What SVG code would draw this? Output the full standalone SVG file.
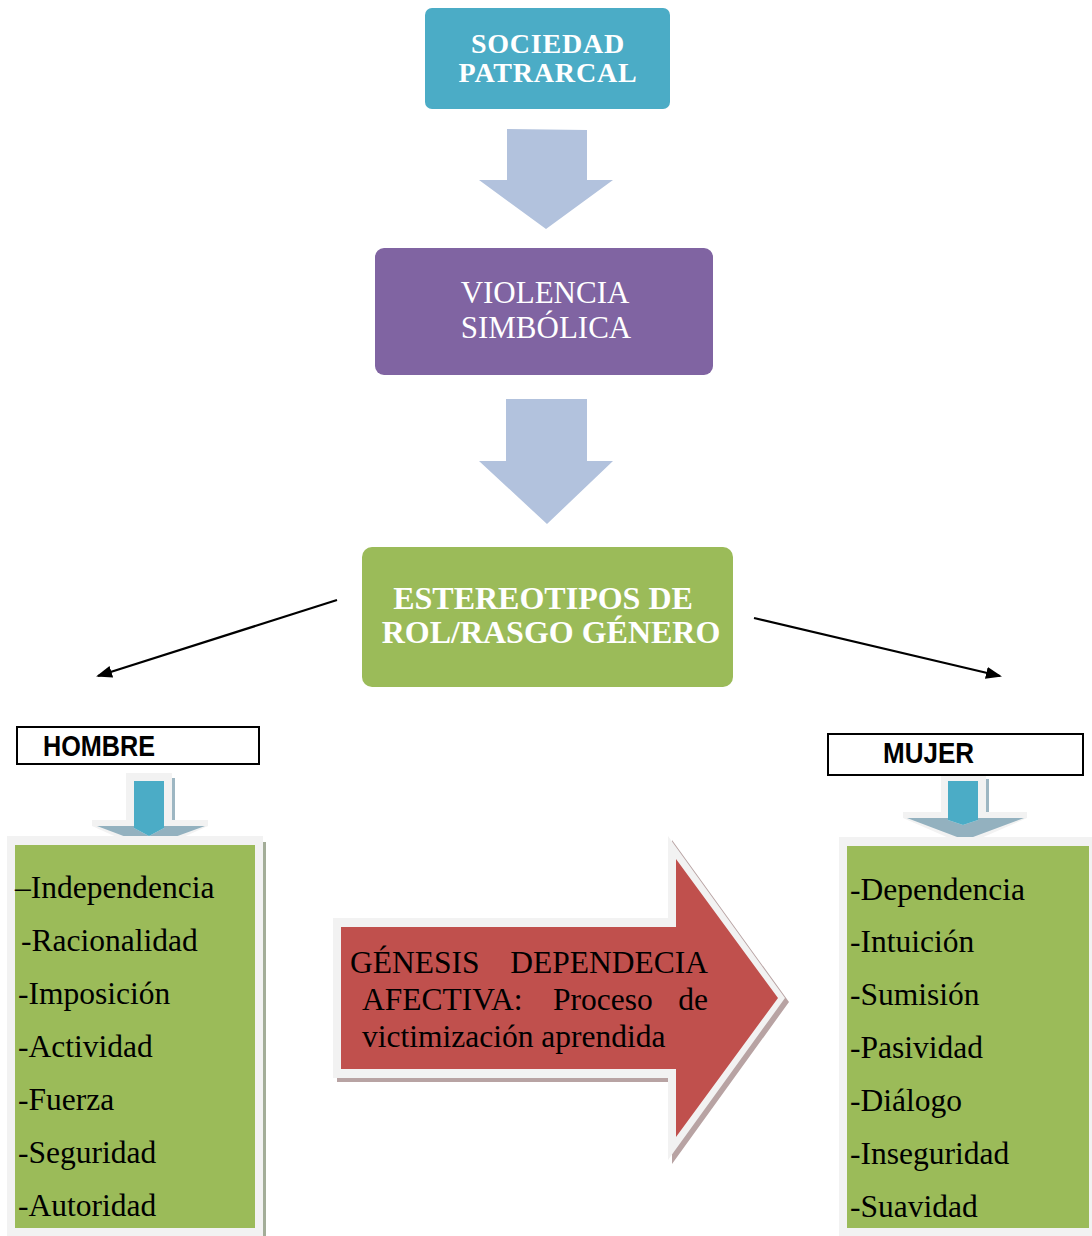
<svg xmlns="http://www.w3.org/2000/svg" width="1092" height="1236" viewBox="0 0 1092 1236">
<style>
.serif{font-family:"Liberation Serif","Times New Roman",serif}
.sans{font-family:"Liberation Sans",Arial,sans-serif;font-weight:bold}
.wt{fill:#fff}
.item{font-family:"Liberation Serif","Times New Roman",serif;font-size:31.5px;fill:#000}
.blk{fill:#B2C2DD}
.lg{fill:#F2F2F2}
.blue{fill:#4BACC6}
.wing{fill:#93B1BF}
.shd{fill:#9DB6C2}
.conn{stroke:#000;stroke-width:2.2;fill:none}
</style>
<defs>
<marker id="ah" markerWidth="16" markerHeight="12" refX="14" refY="6" orient="auto" markerUnits="userSpaceOnUse">
<path d="M0,0 L16,6 L0,12 Z" fill="#000"/>
</marker>
</defs>
<rect width="1092" height="1236" fill="#fff"/>

<g id="connectors">
<polygon class="blk" points="507,129 587,130 587,180 613,180 546,229 479,180 507,180"/>
<polygon class="blk" points="506,399 587,399 587,461 613,461 547,524 479,461 506,461"/>
<line class="conn" x1="337" y1="600" x2="98" y2="676" marker-end="url(#ah)"/>
<line class="conn" x1="754" y1="618" x2="1000" y2="676" marker-end="url(#ah)"/>
<g id="arrow-hombre">
<polygon class="lg" points="126,773 172,773 172,820 208,820 208,826 150,852 92,826 92,820 126,820"/>
<polygon class="wing" points="97,826 134,826 134,828 149,836 164,828 164,826 205,826 150,846"/>
<rect class="shd" x="172" y="778" width="3" height="42"/>
<polygon class="blue" points="134,781 164,781 164,828 149,836 134,828"/>
</g>
<g id="arrow-mujer">
<polygon class="lg" points="941,773 986,773 986,812 1027,812 1027,818 965,845 903,818 903,812 941,812"/>
<polygon class="wing" points="907,818 948,818 948,820 963,825 978,820 978,818 1024,818 965,840"/>
<rect class="shd" x="986" y="779" width="3" height="33"/>
<polygon class="blue" points="948,781 978,781 978,820 963,825 948,820"/>
</g>
</g>

<g id="sociedad">
<rect x="425" y="8" width="245" height="101" rx="7" fill="#4BACC6"/>
<text class="serif wt" font-weight="bold" font-size="28" letter-spacing="0.8" text-anchor="middle" x="548" y="53">SOCIEDAD</text>
<text class="serif wt" font-weight="bold" font-size="28" letter-spacing="0.8" text-anchor="middle" x="548" y="82">PATRARCAL</text>
</g>

<g id="violencia">
<rect x="375" y="248" width="338" height="127" rx="9" fill="#8064A2"/>
<text class="serif wt" font-size="31" text-anchor="middle" x="545" y="303">VIOLENCIA</text>
<text class="serif wt" font-size="31" text-anchor="middle" x="546" y="338">SIMBÓLICA</text>
</g>

<g id="estereotipos">
<rect x="362" y="547" width="371" height="140" rx="10" fill="#9BBB59"/>
<text class="serif wt" font-weight="bold" font-size="32" text-anchor="middle" x="543" y="609">ESTEREOTIPOS DE</text>
<text class="serif wt" font-weight="bold" font-size="32" text-anchor="middle" x="551" y="643">ROL/RASGO GÉNERO</text>
</g>

<g id="hombre">
<rect x="17" y="727" width="242" height="37" fill="#fff" stroke="#000" stroke-width="2"/>
<text class="sans" font-size="29" x="43" y="756" textLength="112" lengthAdjust="spacingAndGlyphs">HOMBRE</text>
</g>

<g id="mujer">
<rect x="828" y="734" width="255" height="41" fill="#fff" stroke="#000" stroke-width="2"/>
<text class="sans" font-size="29" x="883" y="763" textLength="91" lengthAdjust="spacingAndGlyphs">MUJER</text>
</g>

<g id="lista-hombre">
<rect x="263" y="842" width="3" height="394" fill="#A3AD98"/>
<rect class="lg" x="7" y="836" width="256" height="400"/>
<rect x="15" y="845" width="240" height="383" fill="#9BBB59"/>
<text class="item" x="15" y="898">–Independencia</text>
<text class="item" x="21" y="951">-Racionalidad</text>
<text class="item" x="18" y="1004">-Imposición</text>
<text class="item" x="18" y="1057">-Actividad</text>
<text class="item" x="18" y="1110">-Fuerza</text>
<text class="item" x="18" y="1163">-Seguridad</text>
<text class="item" x="18" y="1216">-Autoridad</text>
</g>

<g id="lista-mujer">
<rect class="lg" x="839" y="837" width="253" height="399"/>
<rect x="847" y="846" width="242" height="382" fill="#9BBB59"/>
<text class="item" x="850" y="900">-Dependencia</text>
<text class="item" x="850" y="952">-Intuición</text>
<text class="item" x="850" y="1005">-Sumisión</text>
<text class="item" x="850" y="1058">-Pasividad</text>
<text class="item" x="850" y="1111">-Diálogo</text>
<text class="item" x="850" y="1164">-Inseguridad</text>
<text class="item" x="850" y="1217">-Suavidad</text>
</g>

<g id="genesis">
<polygon points="337,922 672,922 672,840 789,1002 672,1164 672,1082 337,1082" fill="#B8A3A3"/>
<polygon class="lg" points="333,918 668,918 668,836 785,998 668,1160 668,1078 333,1078"/>
<polygon points="341,927 676,927 676,859 778,998 676,1137 676,1069 341,1069" fill="#C0504D"/>
<text class="item" x="350" y="973">GÉNESIS</text>
<text class="item" x="708" y="973" text-anchor="end">DEPENDECIA</text>
<text class="item" x="362" y="1010">AFECTIVA:</text>
<text class="item" x="553" y="1010">Proceso</text>
<text class="item" x="708" y="1010" text-anchor="end">de</text>
<text class="item" x="362" y="1047">victimización aprendida</text>
</g>
</svg>
